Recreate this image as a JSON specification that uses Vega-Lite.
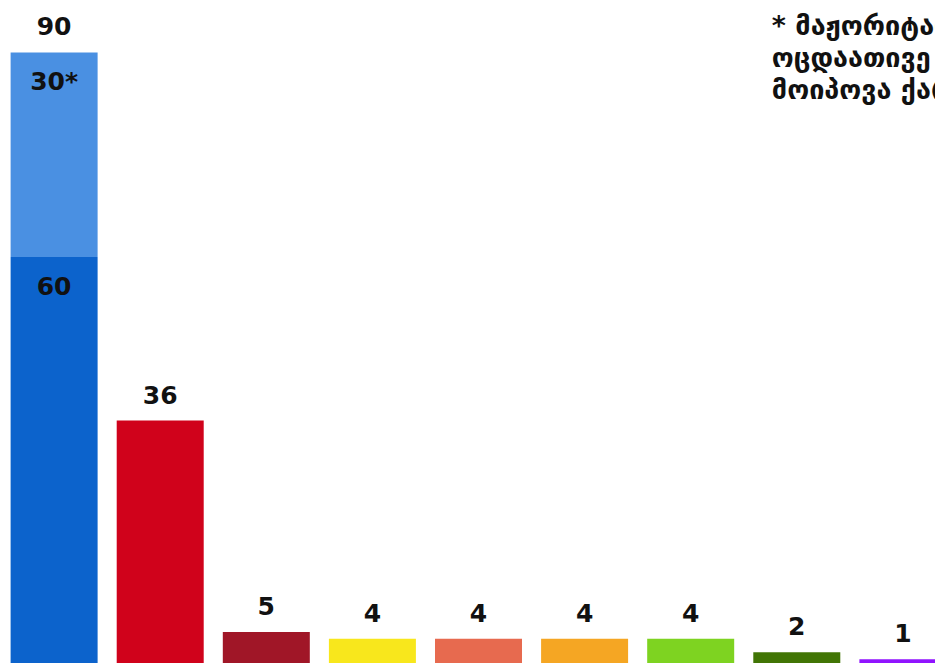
{
  "$schema": "https://vega.github.io/schema/vega-lite/v6.json",
  "width": 935,
  "height": 663,
  "padding": 0,
  "autosize": {"type": "none"},
  "background": "white",
  "config": {"view": {"stroke": null}},
  "data": {"values": [
    {"party": "ქართული ოცნება", "part": 1, "value": 60, "key": "ქართული ოცნება (პროპ.)", "inner": "60"},
    {"party": "ქართული ოცნება", "part": 2, "value": 30, "key": "ქართული ოცნება (მაჟ.)", "inner": "30*"},
    {"party": "ნაციონალური მოძრაობა", "part": 1, "value": 36, "key": "ნაციონალური მოძრაობა"},
    {"party": "ევროპული საქართველო", "part": 1, "value": 5, "key": "ევროპული საქართველო"},
    {"party": "ლელო", "part": 1, "value": 4, "key": "ლელო"},
    {"party": "სტრატეგია აღმაშენებელი", "part": 1, "value": 4, "key": "სტრატეგია აღმაშენებელი"},
    {"party": "პატრიოტთა ალიანსი", "part": 1, "value": 4, "key": "პატრიოტთა ალიანსი"},
    {"party": "გირჩი", "part": 1, "value": 4, "key": "გირჩი"},
    {"party": "მოქალაქეები", "part": 1, "value": 2, "key": "მოქალაქეები"},
    {"party": "ლეიბორისტული პარტია", "part": 1, "value": 1, "key": "ლეიბორისტული პარტია"}
  ]},
  "transform": [
    {"stack": "value", "groupby": ["party"], "sort": [{"field": "part"}], "as": ["v0", "v1"]},
    {"joinaggregate": [{"op": "max", "field": "v1", "as": "total"}], "groupby": ["party"]}
  ],
  "encoding": {
    "x": {
      "field": "party", "type": "nominal", "sort": null, "axis": null,
      "scale": {"range": [0, 957], "paddingInner": 0.18, "paddingOuter": 0.1}
    }
  },
  "layer": [
    {
      "mark": {"type": "bar", "clip": true},
      "encoding": {
        "y": {"field": "v1", "type": "quantitative", "axis": null, "scale": {"domain": [0, 97.7], "nice": false, "zero": true, "range": [666, 0]}},
        "y2": {"field": "v0"},
        "color": {
          "field": "key", "type": "nominal", "legend": null,
          "scale": {
            "domain": ["ქართული ოცნება (პროპ.)", "ქართული ოცნება (მაჟ.)", "ნაციონალური მოძრაობა", "ევროპული საქართველო", "ლელო", "სტრატეგია აღმაშენებელი", "პატრიოტთა ალიანსი", "გირჩი", "მოქალაქეები", "ლეიბორისტული პარტია"],
            "range": ["#0C63CC", "#4A90E2", "#D0021B", "#A01627", "#F8E71C", "#E76A4F", "#F5A623", "#7ED321", "#417505", "#9013FE"]
          }
        }
      }
    },
    {
      "transform": [{"filter": "datum.v1 == datum.total"}],
      "mark": {"type": "text", "font": "DejaVu Sans", "fontWeight": "bold", "fontSize": 25, "baseline": "middle", "dy": -25, "color": "#111111"},
      "encoding": {
        "y": {"field": "total", "type": "quantitative"},
        "text": {"field": "total", "type": "quantitative"}
      }
    },
    {
      "transform": [{"filter": "isValid(datum.inner)"}],
      "mark": {"type": "text", "font": "DejaVu Sans", "fontWeight": "bold", "fontSize": 25, "baseline": "middle", "dy": 30, "color": "#111111"},
      "encoding": {
        "y": {"field": "v1", "type": "quantitative"},
        "text": {"field": "inner", "type": "nominal"}
      }
    },
    {
      "data": {"values": [{"note": ["* მაჟორიტარული", "ოცდაათივე მანდატი", "მოიპოვა ქართულმა ოცნებამ"]}]},
      "transform": [],
      "mark": {"type": "text", "font": "DejaVu Sans", "fontWeight": "bold", "fontSize": 27, "lineHeight": 32, "align": "left", "baseline": "top", "dx": -25, "dy": 14, "color": "#111111"},
      "encoding": {
        "x": {"datum": "მოქალაქეები"},
        "y": {"datum": 97.7},
        "text": {"field": "note"}
      }
    }
  ]
}
